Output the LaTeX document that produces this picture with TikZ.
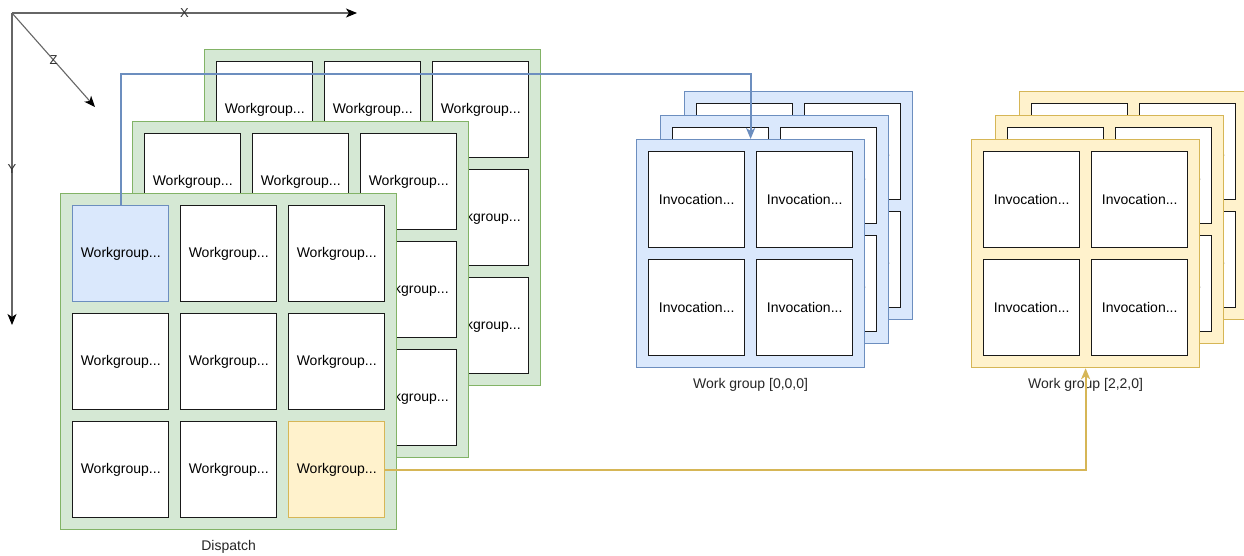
\documentclass[tikz,border=0pt]{standalone}
\usepackage{fontspec}
\setmainfont{Liberation Sans}
\usepackage{xcolor}
\usepackage{tikz}
\usetikzlibrary{arrows.meta,positioning}
\definecolor{greenfill}{HTML}{D5E8D4}
\definecolor{greenline}{HTML}{82B366}
\definecolor{bluefill}{HTML}{DAE8FC}
\definecolor{blueline}{HTML}{6C8EBF}
\definecolor{yellowfill}{HTML}{FFF2CC}
\definecolor{yellowline}{HTML}{D6B656}
\newcommand{\wgfont}{\fontsize{14}{16}\selectfont}

\begin{document}
\begin{tikzpicture}[x=1pt,y=-1pt,>={Stealth[length=11pt,width=9pt,inset=3pt]},
  dplate/.style={draw=greenline,fill=greenfill,line width=1.2pt,minimum size=336pt,anchor=north west,inner sep=0pt},
  wplate/.style={draw=#1line,fill=#1fill,line width=1.2pt,minimum size=228pt,anchor=north west,inner sep=0pt},
  cell/.style={draw=black!90,fill=white,line width=1.4pt,minimum size=96pt,anchor=north west,inner sep=0pt,font=\wgfont},
  caption/.style={font=\wgfont,text=black!85,inner sep=0pt},
  axis/.style={draw=black!60,line width=1.1pt,-{Stealth[length=11pt,width=9pt,inset=3pt,black]}},
  axlbl/.style={font=\fontsize{13}{15}\selectfont,text=black!80,inner sep=0pt},
  link/.style={draw=#1line,line width=2.2pt,->}]
\clip (0,0) rectangle (1244,555);
\fill[white] (0,0) rectangle (1244,555);

\coordinate (origin) at (12,13);
\coordinate (xend) at (357,13);
\coordinate (yend) at (12,325);
\coordinate (zend) at (95,107);
\draw[axis] (origin) -- node[axlbl]{X} (xend);
\draw[axis] (origin) -- node[axlbl]{Y} (yend);
\draw[axis] (origin) -- node[axlbl]{Z} (zend);

\foreach \l in {2,1} {
  \node[dplate] (disp\l) at (60+72*\l,193-72*\l) {};
  \foreach \r in {0,1,2}
    \foreach \c in {0,1,2}
      \node[cell] (wg\l\r\c) at (72+108*\c+72*\l,205+108*\r-72*\l) {Workgroup...};
}
\node[dplate] (disp0) at (60,193) {};
\foreach \r/\c in {0/1,0/2,1/0,1/1,1/2,2/0,2/1}
  \node[cell] (wg0\r\c) at (72+108*\c,205+108*\r) {Workgroup...};
\node[cell,fill=bluefill,draw=blueline] (wg000) at (72,205) {Workgroup...};
\node[cell,fill=yellowfill,draw=yellowline] (wg022) at (288,421) {Workgroup...};

\foreach \l in {2,1,0} {
  \node[wplate=blue] (wgb\l) at (636+24*\l,139-24*\l) {};
  \foreach \r in {0,1}
    \foreach \c in {0,1}
      \node[cell] (invb\l\r\c) at (648+108*\c+24*\l,151+108*\r-24*\l) {Invocation...};
  \node[wplate=yellow] (wgy\l) at (971+24*\l,139-24*\l) {};
  \foreach \r in {0,1}
    \foreach \c in {0,1}
      \node[cell] (invy\l\r\c) at (983+108*\c+24*\l,151+108*\r-24*\l) {Invocation...};
}

\node[caption,below=10pt of disp0] (dispatch) {Dispatch};
\node[caption,below=10pt of wgb0] (wgbname) {Work group [0,0,0]};
\node[caption,below=10pt of wgy0] (wgyname) {Work group [2,2,0]};

\draw[link=blue] (wg000.north) -- ++(0,-131) -| (wgb0.north);
\draw[link=yellow] (wg022.east) -| (wgy0.south);
\end{tikzpicture}
\end{document}
